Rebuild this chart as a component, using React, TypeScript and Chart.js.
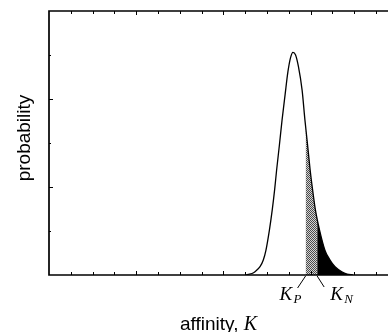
import React, { useEffect, useRef } from "react";
import { Chart, registerables } from "chart.js";

Chart.register(...registerables);

// affinity values (x, in minor-tick units) and probability density (y)
const kValues = [
  9.04, 9.13, 9.31, 9.45, 9.68, 9.83, 9.95, 10.11, 10.24, 10.35, 10.44, 10.57,
  10.69, 10.83, 10.96, 11.08, 11.19, 11.31, 11.44, 11.61, 11.74, 11.86, 11.98,
  12.09, 12.22, 12.41, 12.66, 12.89, 13.12, 13.43, 13.67, 13.94,
];
const probValues = [
  0, 0.006, 0.017, 0.037, 0.094, 0.17, 0.28, 0.51, 0.74, 0.97, 1.19, 1.48,
  1.76, 2.05, 2.31, 2.47, 2.53, 2.5, 2.37, 2.1, 1.76, 1.48, 1.19, 0.97, 0.74,
  0.51, 0.28, 0.17, 0.094, 0.037, 0.011, 0,
];

const KP = 11.77;
const KP_PROB = 1.69;
const KN = 12.3;
const KN_PROB = 0.64;

const X_MIN = 0;
const X_MAX = 15.55;
const Y_MIN = 0;
const Y_MAX = 3;

const xTicks = [1, 2, 3, 4, 5, 6, 7, 8, 9, 10, 11, 12, 13, 14, 15];
const xMajorTicks = [4, 8, 12];
const yTicks = [0.5, 1, 1.5, 2, 2.5];
const yMajorTicks = [1, 2];

const xTitle = "affinity, ";
const xTitleSymbol = "K";
const yTitle = "probability";
const kpLabel = ["K", "P"];
const knLabel = ["K", "N"];

function makePattern(ctx: CanvasRenderingContext2D) {
  const c = document.createElement("canvas");
  c.width = 2;
  c.height = 2;
  const g = c.getContext("2d")!;
  g.fillStyle = "#d4d4d4";
  g.fillRect(0, 0, 2, 2);
  g.fillStyle = "#4a4a4a";
  g.fillRect(0, 0, 1, 1);
  g.fillRect(1, 1, 1, 1);
  return ctx.createPattern(c, "repeat");
}

const decorPlugin = {
  id: "decor",
  afterDraw(chart: any) {
    const { ctx, chartArea } = chart;
    const xs = chart.scales.x;
    const ys = chart.scales.y;
    const { left, top, right, bottom } = chartArea;
    ctx.save();
    ctx.strokeStyle = "#000";
    ctx.fillStyle = "#000";
    // frame
    ctx.lineWidth = 1.7;
    ctx.beginPath();
    ctx.moveTo(right + 2, top);
    ctx.lineTo(left, top);
    ctx.lineTo(left, bottom);
    ctx.lineTo(right + 2, bottom);
    ctx.stroke();
    // x ticks (inside, top and bottom)
    ctx.lineWidth = 1;
    for (const v of xTicks) {
      const px = Math.round(xs.getPixelForValue(v)) + 0.5;
      const len = xMajorTicks.includes(v) ? 4 : 3;
      ctx.beginPath();
      ctx.moveTo(px, bottom);
      ctx.lineTo(px, bottom - len);
      ctx.moveTo(px, top);
      ctx.lineTo(px, top + len);
      ctx.stroke();
    }
    for (const v of yTicks) {
      const py = Math.round(ys.getPixelForValue(v)) + 0.5;
      const len = yMajorTicks.includes(v) ? 4 : 2;
      ctx.beginPath();
      ctx.moveTo(left, py);
      ctx.lineTo(left + len, py);
      ctx.stroke();
    }
    // K_P and K_N markers
    const kpx = xs.getPixelForValue(KP);
    const knx = xs.getPixelForValue(KN);
    ctx.lineWidth = 1;
    ctx.beginPath();
    ctx.moveTo(kpx, bottom + 1);
    ctx.lineTo(kpx - 8, bottom + 13);
    ctx.moveTo(knx, bottom + 1);
    ctx.lineTo(knx + 7, bottom + 12);
    ctx.stroke();

    ctx.textAlign = "left";
    ctx.textBaseline = "alphabetic";
    ctx.font = 'italic 19px "Liberation Serif"';
    ctx.fillText(kpLabel[0], kpx - 26, bottom + 25);
    ctx.fillText(knLabel[0], knx + 13, bottom + 25);
    ctx.font = 'italic 13px "Liberation Serif"';
    ctx.fillText(kpLabel[1], kpx - 12, bottom + 28);
    ctx.fillText(knLabel[1], knx + 27, bottom + 28);

    // x title
    ctx.font = '19px "Liberation Sans"';
    const w1 = ctx.measureText(xTitle).width;
    ctx.font = 'italic 20px "Liberation Serif"';
    const w2 = ctx.measureText(xTitleSymbol).width;
    const cx = (left + right) / 2;
    const x0 = cx - (w1 + w2) / 2;
    ctx.font = '19px "Liberation Sans"';
    ctx.fillText(xTitle, x0, bottom + 55);
    ctx.font = 'italic 20px "Liberation Serif"';
    ctx.fillText(xTitleSymbol, x0 + w1, bottom + 55);

    // y title
    ctx.save();
    ctx.translate(left - 24, (top + bottom) / 2 - 5);
    ctx.rotate(-Math.PI / 2);
    ctx.textAlign = "center";
    ctx.textBaseline = "middle";
    ctx.font = '19px "Liberation Sans"';
    ctx.fillText(yTitle, 0, 0);
    ctx.restore();

    ctx.restore();
  },
};

export default function App() {
  const ref = useRef<HTMLCanvasElement>(null);

  useEffect(() => {
    const canvas = ref.current!;
    const ctx = canvas.getContext("2d")!;
    const curve = kValues.map((x, i) => ({ x, y: probValues[i] }));
    const grayPts = [
      { x: KP, y: KP_PROB },
      ...curve.filter((p) => p.x > KP && p.x < KN),
      { x: KN, y: KN_PROB },
    ];
    const blackPts = [{ x: KN, y: KN_PROB }, ...curve.filter((p) => p.x > KN)];
    const pattern = makePattern(ctx);

    const chart = new Chart(canvas, {
      type: "line",
      data: {
        datasets: [
          {
            data: curve,
            borderColor: "#000",
            borderWidth: 1.3,
            pointRadius: 0,
            fill: false,
            cubicInterpolationMode: "monotone",
          },
          {
            data: grayPts,
            borderWidth: 0,
            borderColor: "rgba(0,0,0,0)",
            backgroundColor: pattern as any,
            pointRadius: 0,
            fill: "origin",
            cubicInterpolationMode: "monotone",
          },
          {
            data: blackPts,
            borderWidth: 0,
            borderColor: "rgba(0,0,0,0)",
            backgroundColor: "#000",
            pointRadius: 0,
            fill: "origin",
            cubicInterpolationMode: "monotone",
          },
        ],
      },
      options: {
        responsive: false,
        animation: false,
        layout: { padding: { left: 49, top: 11, right: 0, bottom: 57 } },
        plugins: {
          legend: { display: false },
          tooltip: { enabled: false },
          title: { display: false },
        },
        scales: {
          x: { type: "linear", min: X_MIN, max: X_MAX, display: false },
          y: { type: "linear", min: Y_MIN, max: Y_MAX, display: false },
        },
      },
      plugins: [decorPlugin],
    });
    return () => chart.destroy();
  }, []);

  return (
    <div
      style={{
        position: "fixed",
        left: 0,
        top: 0,
        width: 388,
        height: 332,
        background: "#fff",
      }}
    >
      <canvas ref={ref} width={388} height={332} />
    </div>
  );
}
